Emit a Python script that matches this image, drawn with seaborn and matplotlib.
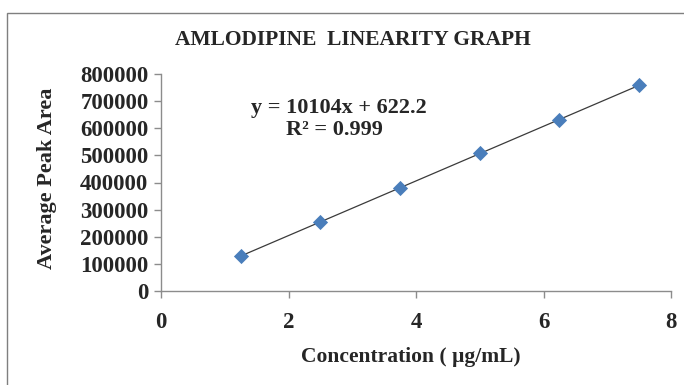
import numpy as np
import pandas as pd
import matplotlib
matplotlib.use("Agg")
import matplotlib.pyplot as plt
import seaborn as sns
from matplotlib.patches import Rectangle

# Data
concentration = [1.25, 2.5, 3.75, 5.0, 6.25, 7.5]
peak_area = [128500, 255500, 380000, 507000, 631500, 758800]
x_ticks = [0, 2, 4, 6, 8]
y_ticks = [0, 100000, 200000, 300000, 400000, 500000, 600000, 700000, 800000]
title = "AMLODIPINE  LINEARITY GRAPH"
x_label = "Concentration ( \u00b5g/mL)"
y_label = "Average Peak Area"
eq_text = "y = 10104x + 622.2"
r2_text = "R\u00b2 = 0.999"

df = pd.DataFrame({"conc": concentration, "area": peak_area})

sns.set_style("white")
plt.rcParams["font.family"] = ["Liberation Serif", "DejaVu Serif"]

W, H = 684, 385
fig = plt.figure(figsize=(W / 100, H / 100), dpi=100)
ax = fig.add_axes([161 / W, 1 - 291 / H, (671 - 161) / W, (291 - 74) / H])

# frame of chart area
fig.patches.append(Rectangle((7 / W, -0.1), 1.2, (H - 13) / H + 0.1,
                             transform=fig.transFigure, fill=False,
                             edgecolor="#7f7f7f", linewidth=1.0))

sns.regplot(data=df, x="conc", y="area", ci=None, scatter=False, ax=ax,
            line_kws=dict(color="#3a3a3a", linewidth=0.9))
sns.scatterplot(data=df, x="conc", y="area", marker="D", s=60,
                color="#4a7ebb", edgecolor="#4a7ebb", linewidth=0, ax=ax, zorder=3)

ax.set_xlim(0, 8)
ax.set_ylim(0, 800000)
ax.set_xticks(x_ticks)
ax.set_yticks(y_ticks)
ax.set_xticklabels([str(t) for t in x_ticks], fontsize=16.5, fontweight="bold")
ax.set_yticklabels([str(t) for t in y_ticks], fontsize=16.5, fontweight="bold")
ax.set_xlabel("")
ax.set_ylabel("")
for s in ["top", "right"]:
    ax.spines[s].set_visible(False)
for s in ["left", "bottom"]:
    ax.spines[s].set_color("#8c8c8c")
    ax.spines[s].set_linewidth(1.0)
ax.tick_params(axis="both", which="major", direction="out", length=5,
               width=1, color="#8c8c8c", left=True, bottom=True)
ax.tick_params(axis="x", pad=10)
ax.tick_params(axis="y", pad=4)

fig.text(353 / W, 1 - 40 / H, title, ha="center", va="center",
         fontsize=15.5, fontweight="bold")
fig.text(411 / W, 1 - 357 / H, x_label, ha="center", va="center",
         fontsize=15.5, fontweight="bold")
fig.text(47 / W, 1 - 178 / H, y_label, ha="center", va="center",
         rotation=90, fontsize=16, fontweight="bold")
fig.text(339 / W, 1 - 108 / H, eq_text, ha="center", va="center",
         fontsize=16, fontweight="bold")
fig.text(334 / W, 1 - 130 / H, r2_text, ha="center", va="center",
         fontsize=16, fontweight="bold")

fig.savefig("out.png", dpi=100)
